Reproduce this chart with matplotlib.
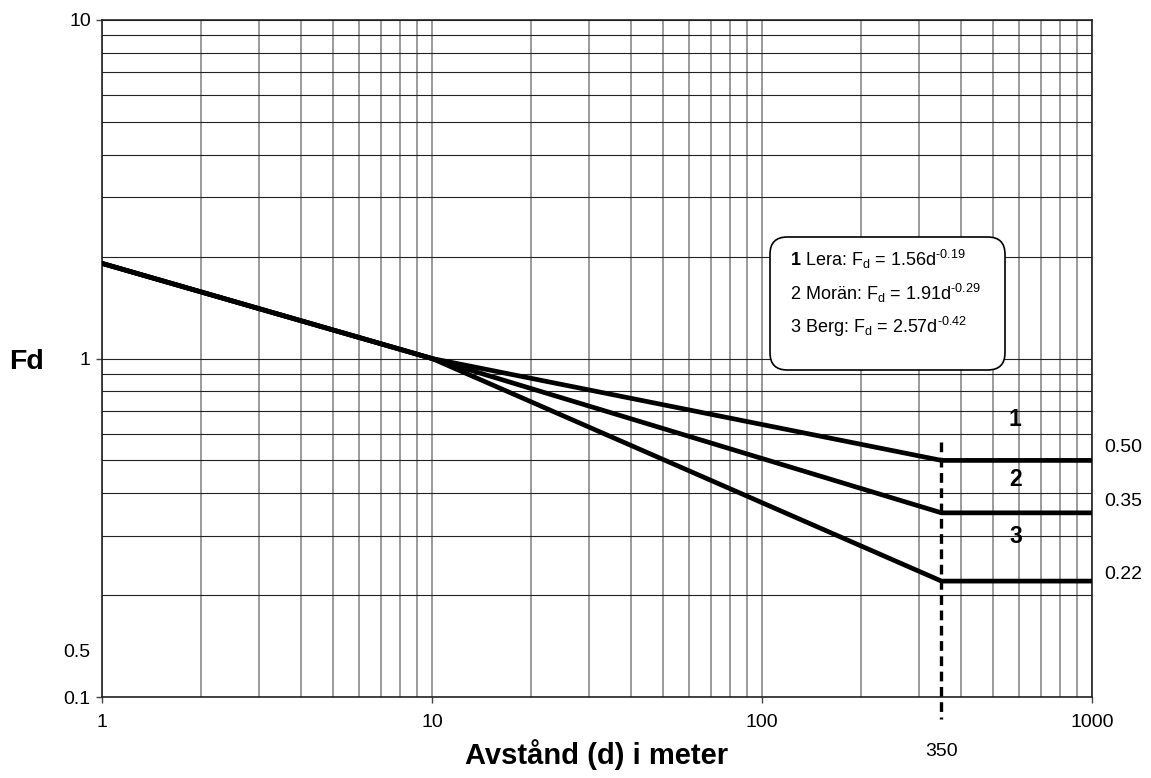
import matplotlib
matplotlib.use('Agg')
import matplotlib.pyplot as plt
from matplotlib.patches import FancyBboxPatch
from matplotlib.ticker import LogLocator, NullFormatter

plt.rcParams['font.family'] = ['Liberation Sans', 'DejaVu Sans']
plt.rcParams['mathtext.fontset'] = 'custom'
plt.rcParams['mathtext.rm'] = 'Liberation Sans'
plt.rcParams['mathtext.bf'] = 'Liberation Sans:bold'
plt.rcParams['lines.scale_dashes'] = False

# avstand (m) och Fd for de tre markslagen
d = [1, 10, 350, 1000]
fd_lera = [1.91, 1.0, 0.50, 0.50]
fd_moran = [1.91, 1.0, 0.35, 0.35]
fd_berg = [1.91, 1.0, 0.22, 0.22]
d_break = 350
end_labels = ['0.50', '0.35', '0.22']
curve_names = ['1', '2', '3']
xticks = [1, 10, 100, 1000]
yticks = [0.1, 1, 10]

fig = plt.figure(figsize=(11.51, 7.78), dpi=100)
ax = fig.add_axes([0.0886, 0.1041, 0.8601, 0.8702])
ax.set_xscale('log')
ax.set_yscale('log')
ax.set_xlim(1, 1000)
ax.set_ylim(0.1, 10)

ax.set_xticks(xticks)
ax.set_xticklabels(['1', '10', '100', '1000'])
ax.set_yticks(yticks)
ax.set_yticklabels(['0.1', '1', '10'])
for axis in (ax.xaxis, ax.yaxis):
    axis.set_minor_locator(LogLocator(base=10, subs=range(2, 10)))
    axis.set_minor_formatter(NullFormatter())
ax.tick_params(axis='both', which='major', length=4, width=1, labelsize=14,
               direction='out', color='#444444')
ax.tick_params(axis='both', which='minor', length=0)
ax.tick_params(axis='x', pad=8)
ax.tick_params(axis='y', pad=4)

# rutnat
ax.grid(True, which='both', axis='x', color='#8a8a8a', lw=1.2)
ax.grid(True, which='both', axis='y', color='#222222', lw=0.8)
ax.set_axisbelow(True)

for y in (fd_lera, fd_moran, fd_berg):
    ax.plot(d, y, color='black', lw=3.4, solid_joinstyle='round', zorder=3)

# streckad linje vid 350 m
ax.plot([d_break, d_break], [0.565, 0.086], color='black', lw=2.4,
        dashes=(7, 4), clip_on=False, zorder=4)

for s in ax.spines.values():
    s.set_color('#222222')
    s.set_linewidth(1.2)

ax.text(-0.012, 0.1353, '0.5', transform=ax.get_yaxis_transform(),
        ha='right', va='center', fontsize=14)
ax.text(d_break, -0.08, '350', transform=ax.get_xaxis_transform(),
        ha='center', va='center', fontsize=14)

# etiketter till hoger
offs = [13, 11, 7]
for y, lab, o in zip((fd_lera, fd_moran, fd_berg), end_labels, offs):
    ax.annotate(lab, (d[-1], y[-1]), xytext=(12, o), textcoords='offset pixels',
                ha='left', va='center', fontsize=14, annotation_clip=False)

for name, yv in zip(curve_names, [0.66, 0.439, 0.298]):
    ax.text(586, yv, name, ha='center', va='center', fontsize=16.5,
            fontweight='bold')

ax.set_xlabel('Avstånd (d) i meter', fontsize=21, fontweight='bold', labelpad=6)
fig.text(0.0078 + 0.015, 1 - 362 / 778, 'Fd', fontsize=20.5, fontweight='bold',
         ha='center', va='center')

# formelruta
box = FancyBboxPatch((770 / 1151, 1 - 370 / 778), 235 / 1151, 133 / 778,
                     boxstyle='round,pad=0,rounding_size=0.015',
                     mutation_aspect=1151 / 778, transform=fig.transFigure,
                     facecolor='white', edgecolor='black', lw=1.2, zorder=5)
fig.patches.append(box)
lines = [r'$\mathbf{1}$ Lera: F$_{\rm d}$ = 1.56d$^{\text{-0.19}}$',
         r'2 Morän: F$_{\rm d}$ = 1.91d$^{\text{-0.29}}$',
         r'3 Berg: F$_{\rm d}$ = 2.57d$^{\text{-0.42}}$']
for i, t in enumerate(lines):
    fig.text(790 / 1151, 1 - (259 + 34 * i) / 778, t, fontsize=13,
             ha='left', va='center', zorder=6)

fig.savefig('out.png', dpi=100)
